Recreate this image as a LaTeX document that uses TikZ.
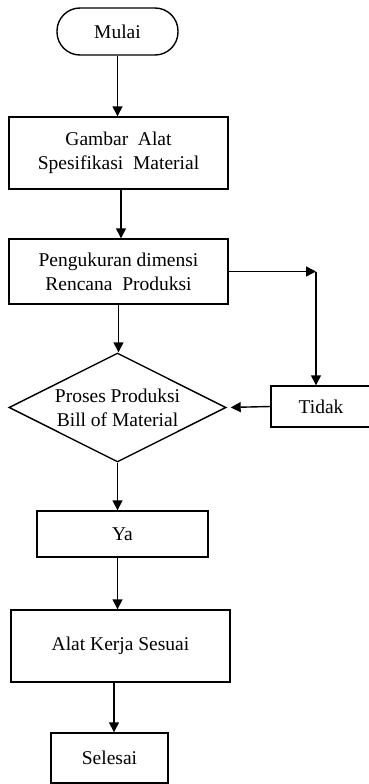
\documentclass[tikz,border=0pt]{standalone}
\usepackage{fontspec}
\setmainfont{Liberation Serif}
\usetikzlibrary{shapes.geometric,arrows.meta}
\begin{document}
\begin{tikzpicture}[x=1pt,y=1pt,
  every node/.style={font=\fontsize{19.5}{24}\selectfont},
  box/.style={draw,line width=1.4pt,rectangle,inner sep=0pt,align=center},
  term/.style={box,rounded corners=23pt},
  dia/.style={draw,line width=1.4pt,diamond,inner sep=0pt,minimum width=217pt,minimum height=109pt},
  arr/.style={line width=1.4pt,-{Triangle[length=10pt,width=10pt]}}]
\useasboundingbox (0,0) rectangle (369,-784);
\node[term,minimum width=121pt,minimum height=47pt] (m) at (117.5,-31.5) {Mulai};
\node[box,minimum width=219pt,minimum height=72pt] (b1) at (118.5,-153) {Gambar~ Alat\\Spesifikasi~ Material};
\node[box,minimum width=219pt,minimum height=65pt] (b2) at (118.5,-271.5) {Pengukuran dimensi\\Rencana~ Produksi};
\node[dia] (d) at (117.5,-407.5) {};
\node[align=center,inner sep=0pt] (dt) at (117.5,-407.5) {Proses Produksi\\Bill of Material};
\node[box,minimum width=100pt,minimum height=41pt] (t) at (321,-406.5) {Tidak};
\node[box,minimum width=171pt,minimum height=46pt] (y) at (122.5,-534) {Ya};
\node[box,minimum width=219pt,minimum height=72pt] (al) at (120.5,-646) {Alat Kerja Sesuai};
\node[box,minimum width=117pt,minimum height=50pt] (s) at (109.5,-758) {Selesai};
\coordinate (c1) at (316,-271.5);
\draw[arr] (m.south) -- (m.south |- b1.north);
\draw[arr] ([xshift=2.5pt]b1.south) -- ([xshift=2.5pt]b1.south |- b2.north);
\draw[arr] (b2.south) -- (b2.south |- d.north);
\draw[arr] (b2.east) -- (c1);
\draw[arr] (c1) -- (c1 |- t.north);
\draw[arr,shorten >=4pt] (t.west) -- (d.east);
\draw[arr] (d.south) -- (d.south |- y.north);
\draw[arr] ([xshift=-5pt]y.south) -- ([xshift=-5pt]y.south |- al.north);
\draw[arr] ([xshift=-6.5pt]al.south) -- ([xshift=-6.5pt]al.south |- s.north);
\end{tikzpicture}
\end{document}
